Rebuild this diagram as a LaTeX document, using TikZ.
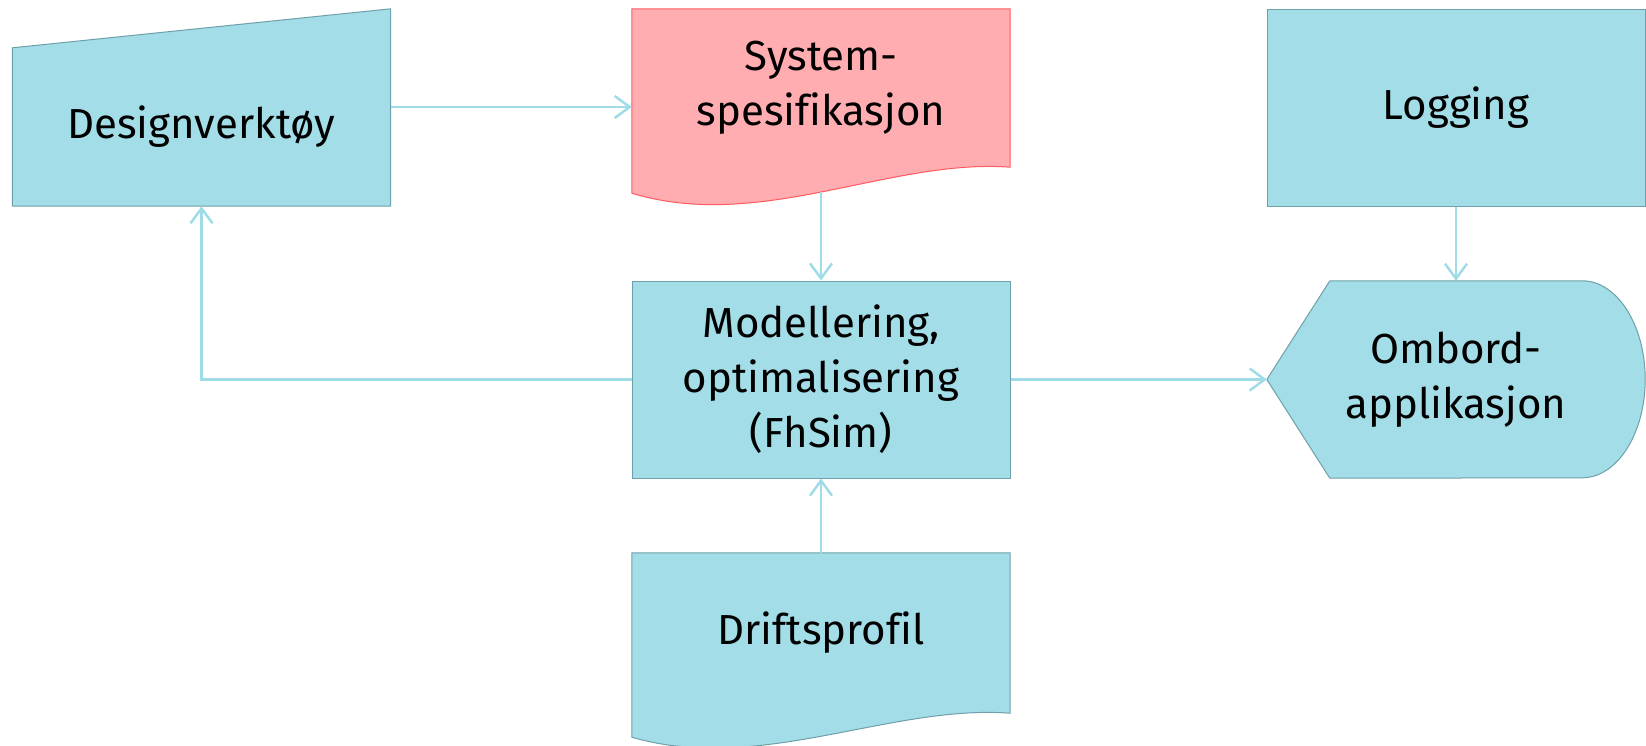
\documentclass[tikz,border=0pt]{standalone}
\usepackage{fontspec}
\setmainfont{Fira Sans}[Ligatures=NoCommon]
\usetikzlibrary{arrows.meta,backgrounds}
\definecolor{boxfill}{RGB}{162,221,232}
\definecolor{boxline}{RGB}{110,160,170}
\definecolor{flowline}{RGB}{160,220,232}
\definecolor{specfill}{RGB}{255,173,176}
\definecolor{specline}{RGB}{255,90,95}
\tikzset{
  block/.style={rectangle, minimum width=378pt, inner sep=0pt, align=center, font=\fontsize{42}{55}\selectfont},
  blockfill/.style={fill=boxfill, draw=boxline, line width=1pt},
  specstyle/.style={fill=specfill, draw=specline, line width=1pt},
  flow/.style={draw=flowline, line width=2.5pt, -{Straight Barb[length=15pt,width=22pt]}},
}
\begin{document}
\begin{tikzpicture}[x=1pt,y=-1pt]
  \useasboundingbox (0,0) rectangle (1646,745);
  \node[block, minimum height=158pt] (design) at (201.5,127) {Designverktøy};
  \node[block, minimum height=158pt] (spec) at (821,88) {System-\\spesifikasjon};
  \node[block, minimum height=197pt, blockfill] (logging) at (1456,107.5) {Logging};
  \node[block, minimum height=197pt, blockfill] (model) at (821,379.5) {Modellering,\\optimalisering\\(FhSim)};
  \node[block, minimum height=197pt] (ombord) at (1456,379.5) {Ombord-\\applikasjon};
  \node[block, minimum height=160pt] (drift) at (821,633) {Driftsprofil};
  \begin{scope}[on background layer]
    \draw[blockfill] (design.south west) -- (design.north west) -- ([yshift=39pt]design.north east) -- (design.south east) -- cycle;
    \draw[specstyle] (spec.south east) -- (spec.north east) -- (spec.north west) -- ([yshift=-26pt]spec.south west) .. controls +(128,39) and +(-120,-9) .. (spec.south east) -- cycle;
    \draw[blockfill] (drift.south east) -- (drift.north east) -- (drift.north west) -- ([yshift=-24pt]drift.south west) .. controls +(128,37) and +(-120,-9) .. (drift.south east) -- cycle;
    \draw[blockfill] (ombord.west) -- ([xshift=63pt]ombord.north west) -- ([xshift=-63pt]ombord.north east) arc[start angle=90, end angle=-90, x radius=63pt, y radius=98.5pt] -- ([xshift=63pt]ombord.south west) -- cycle;
  \end{scope}
  \draw[flow] ([yshift=20pt]design.east) -- ([yshift=-19pt]spec.west);
  \draw[flow] ([yshift=-25pt]spec.south) -- (model.north);
  \draw[flow] (model.west) -| (design.south);
  \draw[flow] (drift.north) -- (model.south);
  \draw[flow] (model.east) -- (ombord.west);
  \draw[flow] (logging.south) -- (ombord.north);
\end{tikzpicture}
\end{document}
